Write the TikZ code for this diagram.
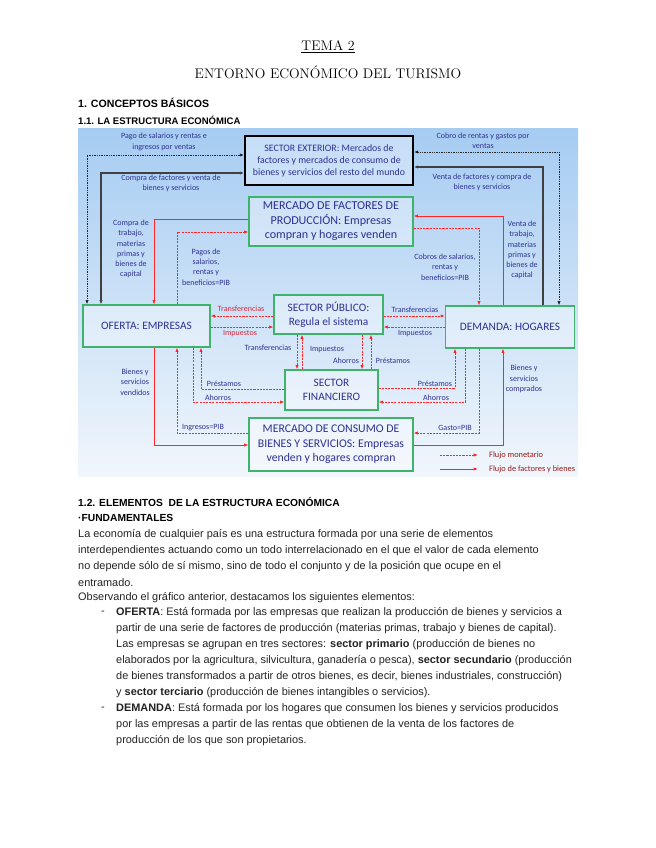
\documentclass[tikz,border=0pt]{standalone}
\usepackage{fontspec}
\usepackage{tikz}
\usetikzlibrary{calc}
\usetikzlibrary{arrows.meta}
\tikzset{>={Latex[length=4pt,width=3pt]}}
\newfontfamily\bodyfont{Liberation Sans}
\newfontfamily\diagfont{Carlito}
\colorlet{myred}{red!85!white}
\definecolor{mynavy}{HTML}{2E3192}
\definecolor{mygreen}{HTML}{3DB36B}
\definecolor{bgtop}{HTML}{A6CCF2}
\definecolor{bgbot}{HTML}{F1F6FC}
\definecolor{bodytext}{HTML}{222222}

\begin{document}
\begin{tikzpicture}[x=0.9344pt, y=-0.9344pt,
    box/.style={draw=mygreen, line width=1pt, fill=white, fill opacity=0.35, text opacity=1,
        text=mynavy, font=\diagfont\fontsize{10.6}{13.5}\selectfont, align=center, inner sep=0},
    lbl/.style={text=mynavy, font=\diagfont\fontsize{7.5}{9.6}\selectfont, align=center, inner sep=0},
    money/.style={myred, line width=0.8pt, dash pattern=on 2pt off 1pt},
    goods/.style={myred, line width=0.7pt},
    extmoney/.style={black!85, line width=0.9pt, dash pattern=on 0.8pt off 0.8pt},
    extgoods/.style={black!75, line width=1.3pt},
    txt/.style={anchor=west, inner sep=0, text=bodytext, font=\bodyfont\fontsize{10.2}{12}\selectfont},
    head/.style={anchor=west, inner sep=0, text=black, font=\bodyfont\bfseries\fontsize{9.6}{12}\selectfont}]
    \useasboundingbox (0,0) rectangle (655,848);

    % title and headings
    \node [font=\rmfamily\fontsize{13}{15}\selectfont] (tema) at (328,47) {\underline{TEMA 2}};
    \node [font=\rmfamily\fontsize{13}{15}\selectfont] (entorno) at (328,72) {ENTORNO ECONÓMICO DEL TURISMO};
    \node [head, font=\bodyfont\bfseries\fontsize{9.9}{12}\selectfont] (h1) at (78,103) {1. CONCEPTOS BÁSICOS};
    \node [head, font=\bodyfont\bfseries\fontsize{8.9}{11}\selectfont] (h11) at (78,120) {1.1. LA ESTRUCTURA ECONÓMICA};

    % diagram background
    \fill [top color=bgtop, bottom color=bgbot] (78,129) rectangle (578,476);

    % boxes
    \node [box, draw=black, line width=1.4pt, font=\diagfont\fontsize{9.2}{11.2}\selectfont,
        minimum width=157pt, minimum height=45.8pt] (exterior) at (329,160.5)
        {SECTOR EXTERIOR: Mercados de\\factores y mercados de consumo de\\bienes y servicios del resto del mundo};
    \node [box, font=\diagfont\fontsize{11.3}{13.5}\selectfont, minimum width=153.2pt, minimum height=45.8pt] (mfactores) at (331,221.5)
        {MERCADO DE FACTORES DE\\PRODUCCIÓN: Empresas\\compran y hogares venden};
    \node [box, minimum width=118.7pt, minimum height=39.2pt] (oferta) at (146.5,326) {OFERTA: EMPRESAS};
    \node [box, minimum width=101.8pt, minimum height=36.4pt] (publico) at (328.5,314.5) {SECTOR PÚBLICO:\\Regula el sistema};
    \node [box, minimum width=120.5pt, minimum height=39.2pt] (demanda) at (510,327) {DEMANDA: HOGARES};
    \node [box, minimum width=86.9pt, minimum height=37.4pt] (financiero) at (331.5,390) {SECTOR\\FINANCIERO};
    \node [box, font=\diagfont\fontsize{11}{13.5}\selectfont, minimum width=153.2pt, minimum height=49.5pt] (mconsumo) at (331,444.5)
        {MERCADO DE CONSUMO DE\\BIENES Y SERVICIOS: Empresas\\venden y hogares compran};

    % sector exterior
    \draw [extgoods, <->] (oferta.north -| 101,0) |- (exterior.west |- 0,173);
    \draw [extmoney, <->] (oferta.north -| 87,0) |- (exterior.west |- 0,155);
    \draw [extgoods, ->] (demanda.north -| 543,0) |- (exterior.east |- 0,167);
    \draw [extmoney, <->] (demanda.north -| 559,0) |- (exterior.east |- 0,152);
    \node [lbl] (lpago) at (164,142) {Pago de salarios y rentas e\\ingresos por ventas};
    \node [lbl] (lcompra) at (171,183) {Compra de factores y venta de\\bienes y servicios};
    \node [lbl] (lcobro) at (483,141) {Cobro de rentas y gastos por\\ventas};
    \node [lbl] (lventa) at (482,182) {Venta de factores y compra de\\bienes y servicios};

    % mercado de factores
    \draw [goods, ->] (mfactores.west |- 0,219) -| (oferta.north -| 154,0);
    \draw [money, ->] (oferta.north -| 177,0) |- (mfactores.west |- 0,232);
    \draw [goods, ->] (demanda.north -| 503,0) |- (mfactores.east |- 0,216);
    \draw [money, ->] (mfactores.east |- 0,228) -| (demanda.north -| 479,0);
    \node [lbl] (lctrab) at (131,249) {Compra de\\trabajo,\\materias\\primas y\\bienes de\\capital};
    \node [lbl] (lvtrab) at (522,250) {Venta de\\trabajo,\\materias\\primas y\\bienes de\\capital};
    \node [lbl] (lpagos) at (206,267) {Pagos de\\salarios,\\rentas y\\beneficios=PIB};
    \node [lbl] (lcobros) at (445,267) {Cobros de salarios,\\rentas y\\beneficios=PIB};

    % sector publico
    \draw [money, ->] (publico.west |- 0,316) -- (oferta.east |- 0,316);
    \draw [money, ->] (oferta.east |- 0,327) -- (publico.west |- 0,327);
    \draw [money, ->] (publico.east |- 0,316) -- (demanda.west |- 0,316);
    \draw [money, ->] (demanda.west |- 0,327) -- (publico.east |- 0,327);
    \draw [money, ->] (publico.south -| 297,0) -- (financiero.north -| 297,0);
    \draw [money, ->] (financiero.north -| 302,0) -- (publico.south -| 302,0);
    \draw [money, ->] (publico.south -| 362,0) -- (financiero.north -| 362,0);
    \draw [money, ->] (financiero.north -| 371,0) -- (publico.south -| 371,0);
    \node [lbl, text=myred!80!mynavy] (ltrans1) at (241,309) {Transferencias};
    \node [lbl, text=myred!80!mynavy] (limp1) at (240,334) {Impuestos};
    \node [lbl] (ltrans2) at (415,310) {Transferencias};
    \node [lbl] (limp2) at (415,334) {Impuestos};
    \node [lbl] (ltrans3) at (268,348) {Transferencias};
    \node [lbl] (limp3) at (327,350) {Impuestos};
    \node [lbl] (lahorro3) at (346,361) {Ahorros};
    \node [lbl] (lprest3) at (393,361) {Préstamos};

    % sector financiero
    \draw [money, ->] (oferta.south -| 193,0) |- (financiero.west |- 0,402);
    \draw [money, ->] (financiero.west |- 0,389) -| (oferta.south -| 201,0);
    \draw [money, ->] (financiero.east |- 0,388) -| (demanda.south -| 455,0);
    \draw [money, ->] (demanda.south -| 465,0) |- (financiero.east |- 0,402);
    \node [lbl] (lprest1) at (224,384) {Préstamos};
    \node [lbl] (lahorro1) at (218,398) {Ahorros};
    \node [lbl] (lprest2) at (435,384) {Préstamos};
    \node [lbl] (lahorro2) at (436,398) {Ahorros};

    % mercado de consumo
    \draw [goods, ->] (oferta.south -| 154,0) |- (mconsumo.west |- 0,445);
    \draw [money, ->] (mconsumo.west |- 0,433) -| (oferta.south -| 177,0);
    \draw [goods, ->] (mconsumo.east |- 0,445) -| (demanda.south -| 503,0);
    \draw [money, ->] (demanda.south -| 479,0) |- (mconsumo.east |- 0,433);
    \node [lbl] (lvend) at (135,382) {Bienes y\\servicios\\vendidos};
    \node [lbl] (lcomp) at (524,379) {Bienes y\\servicios\\comprados};
    \node [lbl] (ling) at (203,428) {Ingresos=PIB};
    \node [lbl] (lgasto) at (455,428) {Gasto=PIB};

    % leyenda
    \coordinate (lgma) at (440,455);
    \coordinate (lgmb) at (478,455);
    \coordinate (lgfa) at (440,469);
    \coordinate (lgfb) at (478,469);
    \draw [money, line width=0.6pt, ->] (lgma) -- (lgmb);
    \draw [goods, line width=0.9pt, ->] (lgfa) -- (lgfb);
    \node [lbl, anchor=west, text=myred!60!black, font=\diagfont\fontsize{7.8}{9.6}\selectfont] (lgm) at (489,455) {Flujo monetario};
    \node [lbl, anchor=west, text=myred!60!black, font=\diagfont\fontsize{7.8}{9.6}\selectfont] (lgf) at (489,469) {Flujo de factores y bienes};

    % texto
    \node [head] (h12) at (78,502) {1.2. ELEMENTOS \ DE LA ESTRUCTURA ECONÓMICA};
    \node [head] (hfund) at (78,518) {·FUNDAMENTALES};
    \node [txt] (p1) at (78,535) {La economía de cualquier país es una estructura formada por una serie de elementos};
    \node [txt] (p2) at (78,551) {interdependientes actuando como un todo interrelacionado en el que el valor de cada elemento};
    \node [txt] (p3) at (78,567) {no depende sólo de sí mismo, sino de todo el conjunto y de la posición que ocupe en el};
    \node [txt] (p4) at (78,583) {entramado.};
    \node [txt] (p5) at (78,598) {Observando el gráfico anterior, destacamos los siguientes elementos:};
    \node [txt] (d1) at (101,613) {-};
    \node [txt] (o1) at (116,613) {\textbf{OFERTA}: Está formada por las empresas que realizan la producción de bienes y servicios a};
    \node [txt] (o2) at (116,629) {partir de una serie de factores de producción (materias primas, trabajo y bienes de capital).};
    \node [txt] (o3) at (116,645) {Las empresas se agrupan en tres sectores: \textbf{sector primario} (producción de bienes no};
    \node [txt] (o4) at (116,661) {elaborados por la agricultura, silvicultura, ganadería o pesca), \textbf{sector secundario} (producción};
    \node [txt] (o5) at (116,677) {de bienes transformados a partir de otros bienes, es decir, bienes industriales, construcción)};
    \node [txt] (o6) at (116,693) {y \textbf{sector terciario} (producción de bienes intangibles o servicios).};
    \node [txt] (d2) at (101,709) {-};
    \node [txt] (e1) at (116,709) {\textbf{DEMANDA}: Está formada por los hogares que consumen los bienes y servicios producidos};
    \node [txt] (e2) at (116,725) {por las empresas a partir de las rentas que obtienen de la venta de los factores de};
    \node [txt] (e3) at (116,741) {producción de los que son propietarios.};
\end{tikzpicture}
\end{document}
